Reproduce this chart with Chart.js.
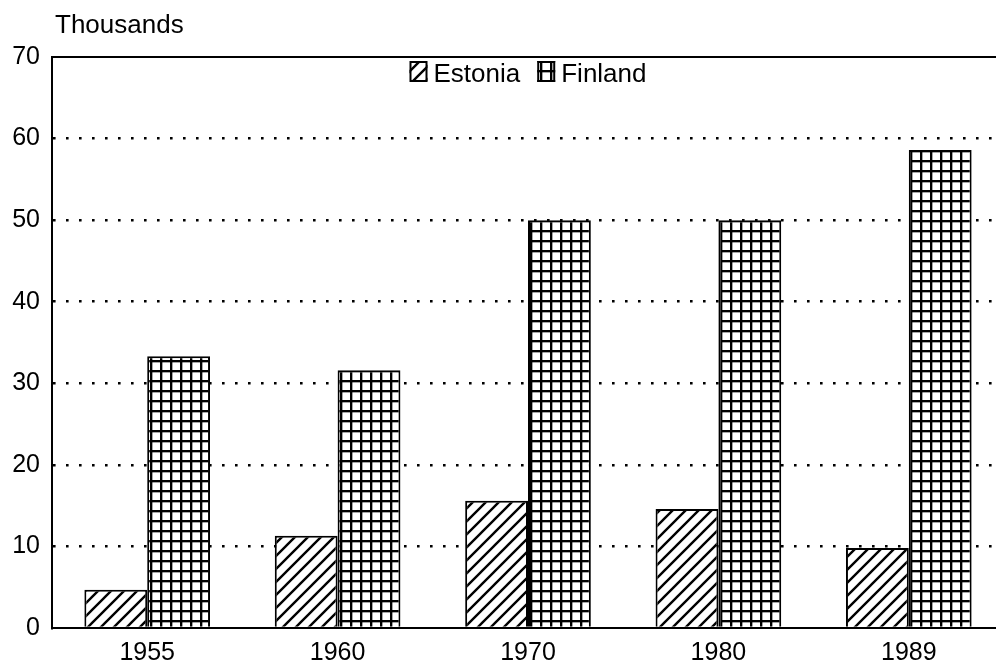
<!DOCTYPE html>
<html><head><meta charset="utf-8">
<script src="https://cdn.jsdelivr.net/npm/chart.js@4/dist/chart.umd.min.js"></script>
<style>html,body{margin:0;padding:0;background:#fff;overflow:hidden}#wrap{width:996px;height:663px;overflow:hidden}</style>
</head><body><div id="wrap"><canvas id="c" width="1004" height="663"></canvas></div>
<script>
const categories = ['1955', '1960', '1970', '1980', '1989'];
const estonia = [4.7, 11.3, 15.6, 14.6, 9.8];
const finland = [33.3, 31.6, 50.0, 50.0, 58.6];
const yTickValues = [0, 10, 20, 30, 40, 50, 60, 70];
const seriesNames = ['Estonia', 'Finland'];
const unitLabel = 'Thousands';

const FONT = '"Liberation Sans", Arial, Helvetica, sans-serif';

function hatchPattern() {
  const s = 13;
  const c = document.createElement('canvas');
  c.width = s; c.height = s;
  const g = c.getContext('2d');
  g.fillStyle = '#fff'; g.fillRect(0, 0, s, s);
  g.strokeStyle = '#000'; g.lineWidth = 2.4;
  g.beginPath();
  g.moveTo(0, s); g.lineTo(s, 0);
  g.moveTo(-2, 2); g.lineTo(2, -2);
  g.moveTo(s - 2, s + 2); g.lineTo(s + 2, s - 2);
  g.stroke();
  return g.createPattern(c, 'repeat');
}
function gridPattern() {
  const s = 10;
  const c = document.createElement('canvas');
  c.width = s; c.height = s;
  const g = c.getContext('2d');
  g.fillStyle = '#fff'; g.fillRect(0, 0, s, s);
  g.fillStyle = '#000';
  g.fillRect(0, 0, s, 2);
  g.fillRect(0, 0, 2, s);
  g.fillStyle = 'rgba(0,0,0,0.35)';
  g.fillRect(0, 2, s, 1);
  g.fillRect(2, 0, 1, s);
  return g.createPattern(c, 'repeat');
}

const inlineLegend = {
  id: 'inlineLegend',
  afterDraw(chart) {
    const ctx = chart.ctx, area = chart.chartArea;
    ctx.save();
    ctx.font = '26px ' + FONT;
    ctx.textBaseline = 'alphabetic';
    const boxW = 18, boxH = 21, gapText = 6, gapItem = 17;
    const items = chart.data.datasets.map(d => ({label: d.label, fill: d.backgroundColor, w: ctx.measureText(d.label).width}));
    const total = items.reduce((s, it) => s + boxW + gapText + it.w, 0) + gapItem * (items.length - 1);
    let x = (area.left + area.right) / 2 - total / 2;
    const boxTop = 61, baseline = 82;
    items.forEach(it => {
      ctx.fillStyle = it.fill;
      ctx.fillRect(x, boxTop, boxW, boxH);
      ctx.strokeStyle = '#000'; ctx.lineWidth = 2;
      ctx.strokeRect(x + 1, boxTop + 1, boxW - 2, boxH - 2);
      x += boxW + gapText;
      ctx.fillStyle = '#000';
      ctx.fillText(it.label, x, baseline);
      x += it.w + gapItem;
    });
    ctx.font = '26px ' + FONT;
    ctx.fillStyle = '#000';
    ctx.fillText(unitLabel, area.left + 3, 33);
    ctx.restore();
  }
};

new Chart(document.getElementById('c'), {
  type: 'bar',
  data: {
    labels: categories,
    datasets: [
      {label: seriesNames[0], data: estonia, backgroundColor: hatchPattern(), borderColor: '#000', borderWidth: 2},
      {label: seriesNames[1], data: finland, backgroundColor: gridPattern(), borderColor: '#000', borderWidth: 2}
    ]
  },
  options: {
    responsive: false,
    animation: false,
    devicePixelRatio: 1,
    categoryPercentage: 0.66,
    barPercentage: 1.0,
    layout: {padding: {top: 57, left: 0, right: 0, bottom: 0}},
    plugins: {legend: {display: false}, title: {display: false}, tooltip: {enabled: false}},
    scales: {
      x: {
        grid: {display: false, drawTicks: false},
        border: {display: true, color: '#000', width: 2},
        ticks: {color: '#000', font: {family: FONT, size: 25}, padding: 10, maxRotation: 0},
        afterFit(s) { s.height = 35; }
      },
      y: {
        min: 0, max: 70,
        afterBuildTicks(s) { s.ticks = yTickValues.map(v => ({value: v})); },
        grid: {
          drawTicks: false,
          color: c => (c.tick && c.tick.value === 0) ? 'rgba(0,0,0,0)' : '#000',
          lineWidth: c => (c.tick && c.tick.value === 70) ? 2 : 2.6
        },
        border: {
          display: true, color: '#000', width: 2,
          dash: c => (c.tick && c.tick.value === 70) ? [] : [2.6, 10.4]
        },
        ticks: {color: '#000', font: {family: FONT, size: 25}, padding: 12},
        afterFit(s) { s.width = 52; }
      }
    }
  },
  plugins: [inlineLegend]
});
</script>
</body></html>
